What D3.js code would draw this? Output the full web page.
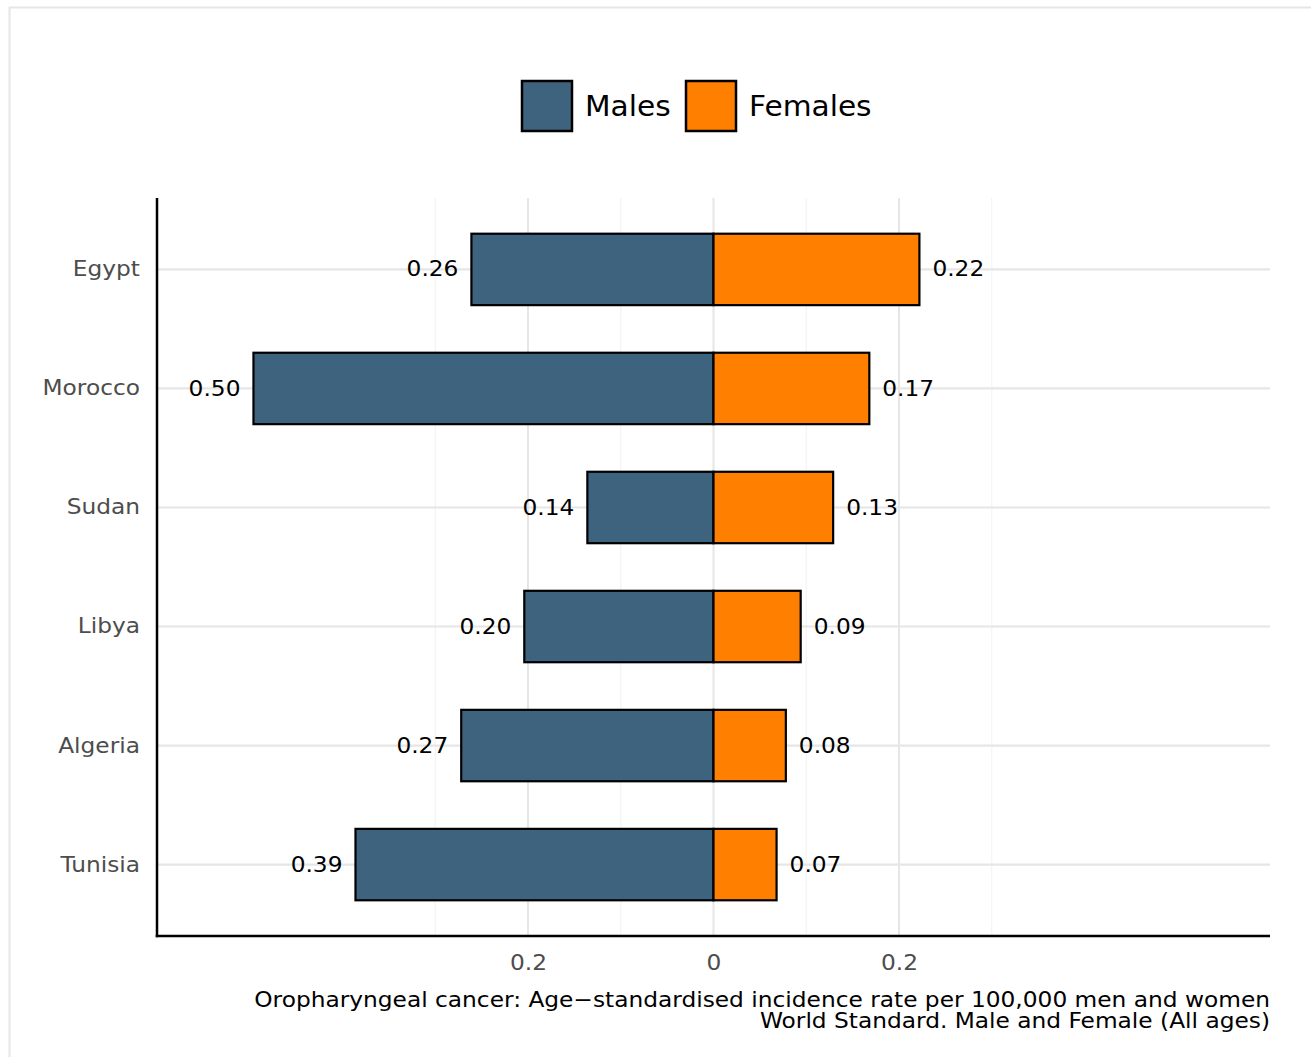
<!DOCTYPE html>
<html><head><meta charset="utf-8">
<script src="https://cdn.jsdelivr.net/npm/d3@7"></script>
<style>body{margin:0;background:#fff}svg{display:block}text{font-family:"DejaVu Sans",sans-serif}</style>
</head><body>
<script>
const countries = ["Egypt","Morocco","Sudan","Libya","Algeria","Tunisia"];
const males   = [0.261, 0.496, 0.136, 0.204, 0.272, 0.386];
const females = [0.222, 0.168, 0.129, 0.094, 0.078, 0.068];
const seriesNames = ["Males","Females"];
const seriesColors = ["#3e637f","#ff8000"];
const majorTicks = [-0.2, 0, 0.2];
const minorTicks = [-0.3, -0.1, 0.1, 0.3];
const captionLines = ["Oropharyngeal cancer: Age\u2212standardised incidence rate per 100,000 men and women",
                      "World Standard. Male and Female (All ages)"];

const W = 1311, H = 1057;
const svg = d3.select("body").append("svg").attr("width", W).attr("height", H);

function stretch(sel, s) {
  sel.each(function() {
    const t = d3.select(this);
    const x = +t.attr("x") || 0, y = +t.attr("y") || 0;
    t.attr("transform", `translate(${x},${y}) scale(${s},1) translate(${-x},${-y})`);
  });
}
const SX = 1.083;

// page border
svg.append("rect").attr("x", 9.5).attr("y", 7.5).attr("width", 1400).attr("height", 1200)
  .attr("fill", "none").attr("stroke", "#e6e6e6").attr("stroke-width", 2);

const L = 157, R = 1270, T = 198, B = 936;
const x = d3.scaleLinear().domain([-0.6, 0.6]).range([L, R]);
const step = (B - T) / 6.2;
const y = d3.scalePoint().domain(countries).range([T + 0.6 * step, B - 0.6 * step]);
const barH = 0.6 * step;

// gridlines
svg.append("g").selectAll("line").data(minorTicks).join("line")
  .attr("x1", d => x(d)).attr("x2", d => x(d)).attr("y1", T).attr("y2", B)
  .attr("stroke", "#f4f4f4").attr("stroke-width", 1.2);
svg.append("g").selectAll("line").data(majorTicks).join("line")
  .attr("x1", d => x(d)).attr("x2", d => x(d)).attr("y1", T).attr("y2", B)
  .attr("stroke", "#e6e6e6").attr("stroke-width", 2);
svg.append("g").selectAll("line").data(countries).join("line")
  .attr("x1", L).attr("x2", R).attr("y1", d => y(d)).attr("y2", d => y(d))
  .attr("stroke", "#e6e6e6").attr("stroke-width", 2.2);

// bars
const rows = countries.map((c, i) => ({c, m: males[i], f: females[i]}));
const g = svg.append("g");
g.selectAll("rect.m").data(rows).join("rect").attr("class", "m")
  .attr("x", d => x(-d.m)).attr("width", d => x(0) - x(-d.m))
  .attr("y", d => y(d.c) - barH / 2).attr("height", barH)
  .attr("fill", seriesColors[0]).attr("stroke", "#000").attr("stroke-width", 2.2);
g.selectAll("rect.f").data(rows).join("rect").attr("class", "f")
  .attr("x", x(0)).attr("width", d => x(d.f) - x(0))
  .attr("y", d => y(d.c) - barH / 2).attr("height", barH)
  .attr("fill", seriesColors[1]).attr("stroke", "#000").attr("stroke-width", 2.2);

// value labels
g.selectAll("text.m").data(rows).join("text").attr("class", "m")
  .attr("x", d => x(-d.m) - 13).attr("y", d => y(d.c)).attr("dy", "0.33em")
  .attr("text-anchor", "end").attr("font-size", 21.5).attr("fill", "#000")
  .text(d => d.m.toFixed(2)).call(stretch, SX);
g.selectAll("text.f").data(rows).join("text").attr("class", "f")
  .attr("x", d => x(d.f) + 13).attr("y", d => y(d.c)).attr("dy", "0.33em")
  .attr("text-anchor", "start").attr("font-size", 21.5).attr("fill", "#000")
  .text(d => d.f.toFixed(2)).call(stretch, SX);

// axes
const yAxis = svg.append("g").attr("transform", `translate(${L},0)`)
  .call(d3.axisLeft(y).tickSize(0).tickPadding(17));
yAxis.select(".domain").remove();
yAxis.selectAll("text").attr("font-size", 21.5).attr("fill", "#4d4d4d").attr("font-family", "DejaVu Sans")
  .attr("dy", "0.3em").call(stretch, SX);

const xAxis = svg.append("g").attr("transform", `translate(0,${B})`)
  .call(d3.axisBottom(x).tickValues(majorTicks).tickSize(0).tickPadding(19)
    .tickFormat(d => d === 0 ? "0" : Math.abs(d).toString()));
xAxis.select(".domain").remove();
xAxis.selectAll("text").attr("font-size", 21.5).attr("fill", "#4d4d4d").attr("font-family", "DejaVu Sans")
  .call(stretch, SX);

svg.append("line").attr("x1", L).attr("x2", L).attr("y1", T).attr("y2", B + 1.25)
  .attr("stroke", "#000").attr("stroke-width", 2.5);
svg.append("line").attr("x1", L - 1.25).attr("x2", R).attr("y1", B).attr("y2", B)
  .attr("stroke", "#000").attr("stroke-width", 2.5);

// caption
svg.append("g").selectAll("text").data(captionLines).join("text")
  .attr("x", R).attr("y", (d, i) => 1007 + i * 21).attr("text-anchor", "end")
  .attr("font-size", 21.5).attr("fill", "#000").text(d => d).call(stretch, SX);

// legend
const leg = svg.append("g");
const keyX = [522, 686];
seriesNames.forEach((s, i) => {
  leg.append("rect").attr("x", keyX[i]).attr("y", 81).attr("width", 50).attr("height", 50)
    .attr("fill", seriesColors[i]).attr("stroke", "#000").attr("stroke-width", 2.5);
  leg.append("text").attr("x", keyX[i] + 63).attr("y", 106).attr("dy", "0.36em")
    .attr("font-size", 28.5).attr("fill", "#000").text(s).call(stretch, 1.04);
});
</script>
</body></html>
